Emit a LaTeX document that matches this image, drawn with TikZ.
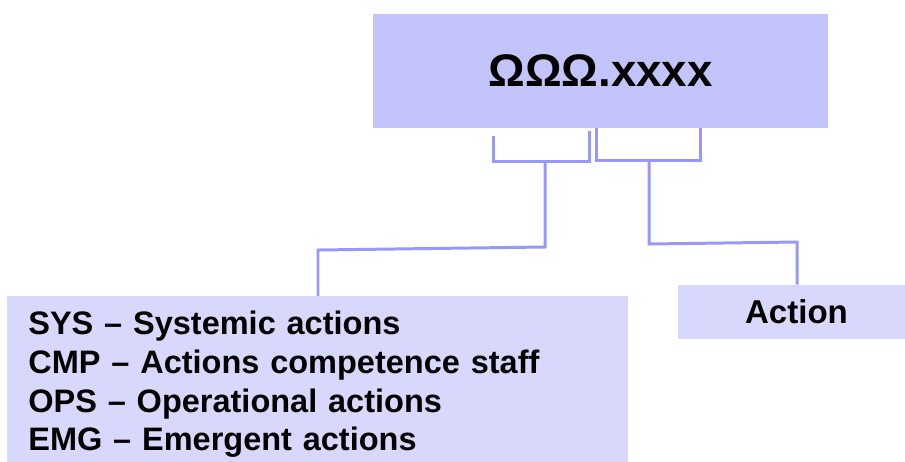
\documentclass[tikz,border=0pt]{standalone}
\usepackage{fontspec}
\setmainfont{Liberation Sans}
\usetikzlibrary{calc}

\definecolor{codeblue}{RGB}{196,196,252}
\definecolor{paleblue}{RGB}{216,216,252}
\definecolor{linkblue}{RGB}{152,152,252}

\begin{document}
\begin{tikzpicture}[x=0.02cm, y=-0.02cm,
        link/.style={draw=linkblue, line width=1.7pt},
        box/.style={fill=#1, inner sep=0pt, font=\bfseries}]
        \useasboundingbox (0, 0) rectangle (905, 461);

        \node[box=codeblue, minimum width=9.1cm, minimum height=2.28cm,
            font=\bfseries\fontsize{26}{30}\selectfont] (code) at (600.5, 71) {ΩΩΩ.xxxx};
        \node[box=paleblue, minimum width=4.54cm, minimum height=1.08cm,
            font=\bfseries\fontsize{18.8}{22}\selectfont] (action) at (791.5, 312) {\hspace{0.2cm}Action};
        \node[box=paleblue, anchor=north west, inner xsep=0.42cm, inner ysep=0.3cm,
            text width=11.58cm, align=left,
            font=\bfseries\fontsize{18.5}{22}\selectfont] (kinds) at (7, 296)
            {SYS – Systemic actions\\
             CMP – Actions competence staff\\
             OPS – Operational actions\\
             EMG – Emergent actions};

        \coordinate (j1) at (545, 161);
        \coordinate (j2) at (649, 160);
        \coordinate (k1) at (318, 250);
        \coordinate (k2) at (797, 242);

        \draw[link] (493, 136) |- (j1) -| (589, 131);
        \draw[link] (code.south -| 596, 0) |- (j2) -| (code.south -| 700, 0);

        \draw[link] (j1) -- (545, 247) -- (k1) -- (k1 |- kinds.north);
        \draw[link] (j2) -- (649, 244) -- (k2) -- (k2 |- action.north);
    \end{tikzpicture}
\end{document}
